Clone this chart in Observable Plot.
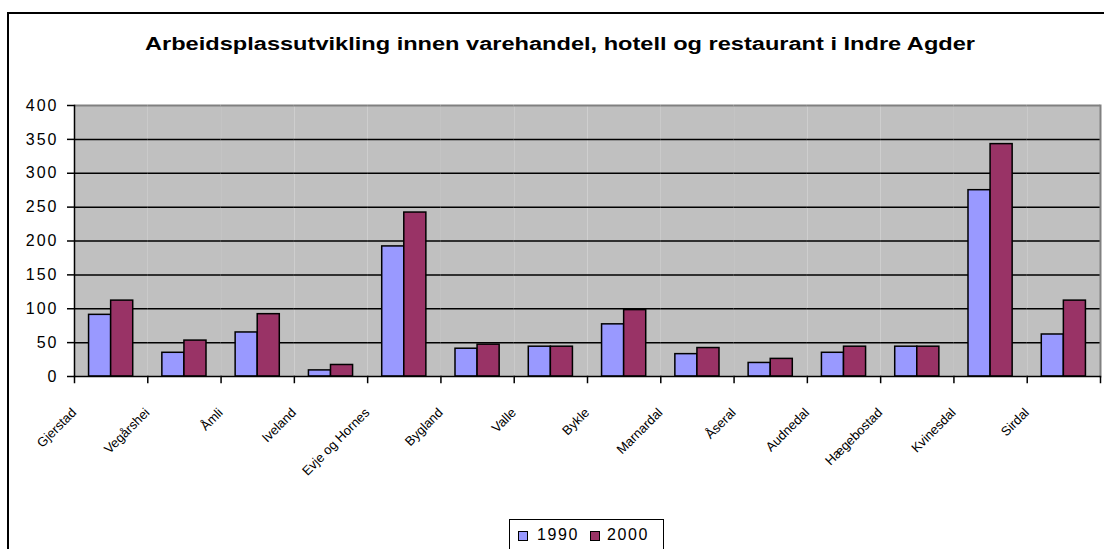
<!DOCTYPE html>
<html><head><meta charset="utf-8">
<script src="https://cdn.jsdelivr.net/npm/d3@7"></script>
<script src="https://cdn.jsdelivr.net/npm/@observablehq/plot@0.6"></script>
<style>
html,body{margin:0;padding:0;background:#fff;overflow:hidden;width:1104px;height:549px;}
body{position:relative;font-family:"Liberation Sans",Arial,sans-serif;}
#box{position:absolute;left:7px;top:12px;width:1200px;height:700px;border:2px solid #000;box-sizing:border-box;}
#title{position:absolute;left:560px;top:34px;font-weight:bold;font-size:17.5px;color:#000;white-space:nowrap;transform-origin:0 0;}
#plot{position:absolute;left:0;top:80px;}
#plot g[aria-label="y-axis tick label"] text{letter-spacing:2px;}
#legend{position:absolute;left:509px;top:519px;width:155px;height:40px;border:1.5px solid #000;box-sizing:border-box;background:#fff;}
.sw{position:absolute;top:11px;width:10px;height:10px;border:1.5px solid #000;box-sizing:border-box;}
.lt{position:absolute;top:6px;font-size:16px;letter-spacing:1.6px;color:#000;}
</style>
</head><body>
<div id="box"></div>
<div id="title">Arbeidsplassutvikling innen varehandel, hotell og restaurant i Indre Agder</div>
<div id="plot"></div>
<div id="legend"></div>
<script>
const kommuner = ["Gjerstad","Vegårshei","Åmli","Iveland","Evje og Hornes","Bygland","Valle","Bykle","Marnardal","Åseral","Audnedal","Hægebostad","Kvinesdal","Sirdal"];
const years = ["1990","2000"];
const v1990 = [91,35,65,9,192,41,44,77,33,20,35,44,275,62];
const v2000 = [112,53,92,17,242,47,44,98,42,26,44,44,343,112];
const yTicks = [0,50,100,150,200,250,300,350,400];
const colors = ["#9999FF","#993366"];

const rows = kommuner.flatMap((k,i)=>[{k, year:years[0], v:v1990[i]},{k, year:years[1], v:v2000[i]}]);

const W=1104, H=440, mT=25, mB=144, mL=74, mR=4;
const plotH = H-mT-mB;

const chart = Plot.plot({
  width:W, height:H, marginTop:mT, marginBottom:mB, marginLeft:mL, marginRight:mR,
  style:{fontFamily:'"Liberation Sans",Arial,sans-serif', fontSize:"16px", color:"#000", background:"transparent", overflow:"visible"},
  fx:{domain:kommuner, padding:0, round:false, label:null},
  x:{domain:years, paddingInner:0, paddingOuter:0.66, round:false, axis:null},
  y:{domain:[0,400], axis:null},
  color:{domain:years, range:colors},
  marks:[
    Plot.frame({fill:"#C0C0C0", stroke:"none"}),
    Plot.ruleY(yTicks.slice(1,-1), {stroke:"#000", strokeWidth:1.5}),
    Plot.ruleY([400], {stroke:"#808080", strokeWidth:2}),
    Plot.frame({anchor:"right", facetAnchor:"right", stroke:"#808080", strokeWidth:2}),
    Plot.barY(rows, {fx:"k", x:"year", y:"v", fill:"year", stroke:"#000", strokeWidth:1.5}),
    Plot.ruleY([0], {stroke:"#000", strokeWidth:1.5}),
    Plot.frame({anchor:"left", facetAnchor:"left", stroke:"#000", strokeWidth:1.5}),
    Plot.frame({anchor:"left", insetTop:plotH, insetBottom:-6, stroke:"#000", strokeWidth:1.5}),
    Plot.frame({anchor:"right", facetAnchor:"right", insetTop:plotH, insetBottom:-6, stroke:"#000", strokeWidth:1.5}),
    Plot.axisY({ticks:yTicks, tickSize:7, tickPadding:9, label:null, fontSize:16, strokeWidth:1.5, tickFormat:d=>String(d)}),
    Plot.axisFx({anchor:"bottom", tickRotate:-45, tickSize:0, tickPadding:0, textAnchor:"end", dx:-37, dy:34, fontSize:13, label:null})
  ]
});
document.getElementById("plot").appendChild(chart);

// stretch title to the reference's rendered width, centred
const title = document.getElementById("title");
const tw = title.getBoundingClientRect().width;
const target = 830;
title.style.transform = `translateX(${-target/2}px) scaleX(${target/tw})`;

const legend = document.getElementById("legend");
const swX = [8, 80], txtX = [27, 97];
years.forEach((y,i)=>{
  const s = document.createElement("div"); s.className="sw"; s.style.left=swX[i]+"px"; s.style.background=colors[i]; legend.appendChild(s);
  const t = document.createElement("div"); t.className="lt"; t.style.left=txtX[i]+"px"; t.textContent=y; legend.appendChild(t);
});
</script>
</body></html>
